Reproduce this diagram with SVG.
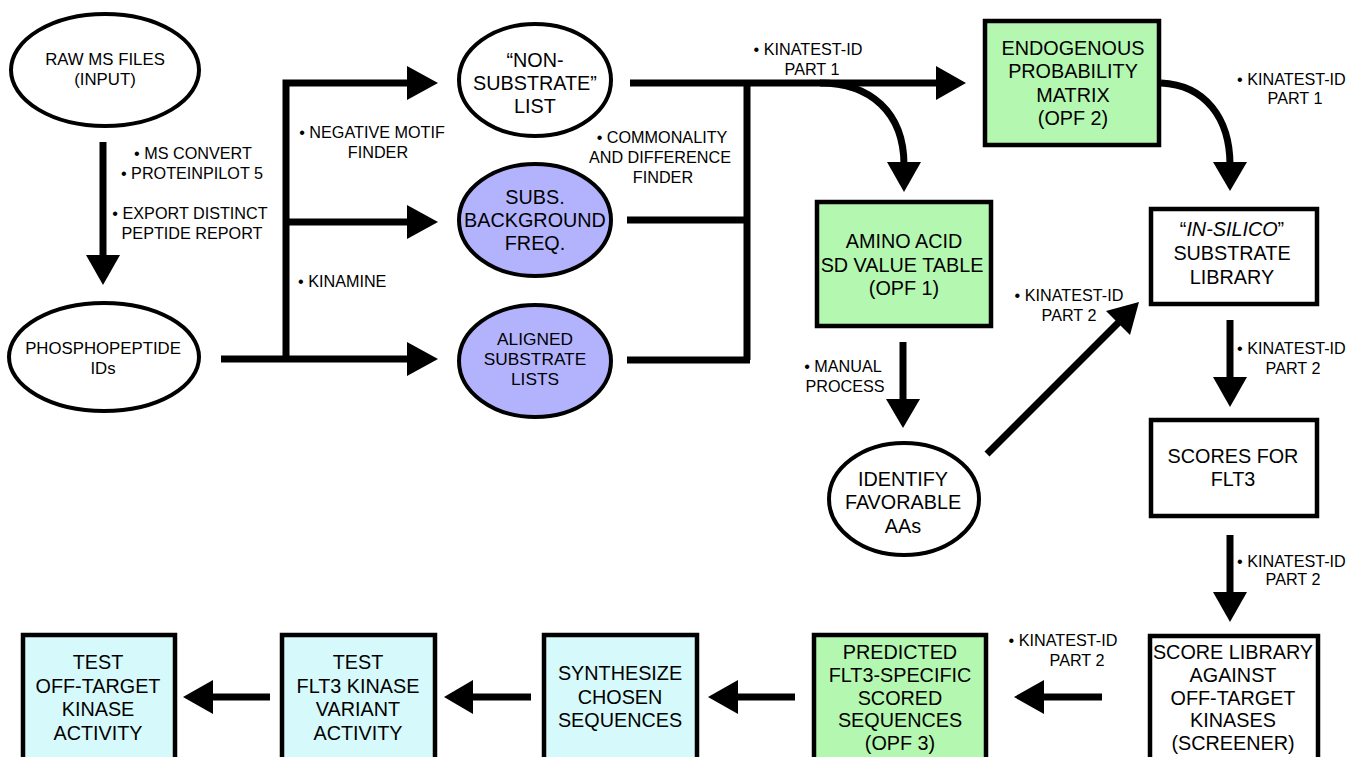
<svg xmlns="http://www.w3.org/2000/svg" width="1351" height="757" viewBox="0 0 1351 757">
<style>
text{font-family:"Liberation Sans",Arial,sans-serif;fill:#000;text-anchor:middle}
.n{font-size:19.8px}
.s{font-size:16.8px}
.l{font-size:16.2px}
.ell{stroke:#000;stroke-width:4;fill:#fff}
.box{stroke:#000;stroke-width:4.5;fill:#fff}
.g{fill:#b4f7b0}
.p{fill:#b3b3fd}
.c{fill:#d6f9fb}
.ln{stroke:#000;stroke-width:7;fill:none}
.ah{fill:#000;stroke:none}
</style>
<rect width="1351" height="757" fill="#fff"/>
<g id="connectors">
<line class="ln" x1="103" y1="142" x2="103" y2="258"/>
<polygon class="ah" points="86,255 120,255 103,285"/>
<line class="ln" x1="221" y1="359" x2="410" y2="359"/>
<polyline class="ln" points="410,83 286,83 286,359"/>
<line class="ln" x1="286" y1="222" x2="410" y2="222"/>
<polygon class="ah" points="407,66 407,100 438,83"/>
<polygon class="ah" points="407,205 407,239 438,222"/>
<polygon class="ah" points="407,342 407,376 438,359"/>
<line class="ln" x1="630" y1="83" x2="940" y2="83"/>
<polygon class="ah" points="936,66 936,100 966,83"/>
<line class="ln" x1="747" y1="80" x2="747" y2="360"/>
<line class="ln" x1="627" y1="220" x2="750" y2="220"/>
<line class="ln" x1="627" y1="360" x2="750" y2="360"/>
<path class="ln" d="M820,83 C870,83 904,112 904,165"/>
<polygon class="ah" points="887,162 921,162 904,192"/>
<path class="ln" d="M1161,83 C1205,85 1230,118 1230,165"/>
<polygon class="ah" points="1213,162 1247,162 1230,191"/>
<line class="ln" x1="987" y1="454" x2="1120" y2="321"/>
<polygon class="ah" points="1106,311 1130,335 1139,302"/>
<line class="ln" x1="903" y1="342" x2="903" y2="402"/>
<polygon class="ah" points="886,399 920,399 903,428"/>
<line class="ln" x1="1230" y1="320" x2="1230" y2="380"/>
<polygon class="ah" points="1213,377 1247,377 1230,407"/>
<line class="ln" x1="1230" y1="535" x2="1230" y2="595"/>
<polygon class="ah" points="1213,592 1247,592 1230,622"/>
<line class="ln" x1="1102" y1="697" x2="1041" y2="697"/>
<polygon class="ah" points="1044,680 1044,714 1014,697"/>
<line class="ln" x1="795" y1="697" x2="735" y2="697"/>
<polygon class="ah" points="738,680 738,714 708,697"/>
<line class="ln" x1="531" y1="697" x2="470" y2="697"/>
<polygon class="ah" points="473,680 473,714 444,697"/>
<line class="ln" x1="270" y1="697" x2="210" y2="697"/>
<polygon class="ah" points="213,680 213,714 183,697"/>
</g>
<g id="labels">
<text class="l" x="193" y="159">• MS CONVERT</text>
<text class="l" x="192" y="179">• PROTEINPILOT 5</text>
<text class="l" x="190" y="219">• EXPORT DISTINCT</text>
<text class="l" x="192" y="239">PEPTIDE REPORT</text>
<text class="l" x="372" y="138">• NEGATIVE MOTIF</text>
<text class="l" x="378" y="158">FINDER</text>
<text class="l" x="298" y="287" style="text-anchor:start">• KINAMINE</text>
<text class="l" x="662" y="143">• COMMONALITY</text>
<text class="l" x="660" y="163">AND DIFFERENCE</text>
<text class="l" x="663" y="183">FINDER</text>
<text class="l" x="808" y="55">• KINATEST-ID</text>
<text class="l" x="812" y="75">PART 1</text>
<text class="l" x="1237" y="85" style="text-anchor:start">• KINATEST-ID</text>
<text class="l" x="1295" y="104">PART 1</text>
<text class="l" x="1069" y="301">• KINATEST-ID</text>
<text class="l" x="1069" y="321">PART 2</text>
<text class="l" x="843" y="372">• MANUAL</text>
<text class="l" x="845" y="392">PROCESS</text>
<text class="l" x="1237" y="354" style="text-anchor:start">• KINATEST-ID</text>
<text class="l" x="1293" y="374">PART 2</text>
<text class="l" x="1237" y="567" style="text-anchor:start">• KINATEST-ID</text>
<text class="l" x="1293" y="585">PART 2</text>
<text class="l" x="1063" y="646">• KINATEST-ID</text>
<text class="l" x="1077" y="666">PART 2</text>
</g>
<g id="raw">
<ellipse class="ell" cx="105" cy="70" rx="94" ry="56"/>
<text class="s" x="105" y="65">RAW MS FILES</text>
<text class="s" x="105" y="85">(INPUT)</text>
</g>
<g id="phospho">
<ellipse class="ell" cx="104" cy="357" rx="95" ry="54"/>
<text class="s" x="103" y="354">PHOSPHOPEPTIDE</text>
<text class="s" x="103" y="374">IDs</text>
</g>
<g id="nonsub">
<ellipse class="ell" cx="535" cy="80" rx="76" ry="56"/>
<text class="n" x="535" y="67">“NON-</text>
<text class="n" x="535" y="90">SUBSTRATE”</text>
<text class="n" x="535" y="113">LIST</text>
</g>
<g id="subs">
<ellipse class="ell p" cx="535" cy="220" rx="76" ry="56"/>
<text class="n" x="535" y="204">SUBS.</text>
<text class="n" x="535" y="227">BACKGROUND</text>
<text class="n" x="535" y="250">FREQ.</text>
</g>
<g id="aligned">
<ellipse class="ell p" cx="535" cy="361" rx="76" ry="56"/>
<text class="s" x="535" y="345" style="font-size:17.3px">ALIGNED</text>
<text class="s" x="535" y="365" style="font-size:17.3px">SUBSTRATE</text>
<text class="s" x="535" y="385" style="font-size:17.3px">LISTS</text>
</g>
<g id="endo">
<rect class="box g" x="985" y="21" width="174" height="124"/>
<text class="n" x="1073" y="55">ENDOGENOUS</text>
<text class="n" x="1073" y="78">PROBABILITY</text>
<text class="n" x="1073" y="102">MATRIX</text>
<text class="n" x="1073" y="125">(OPF 2)</text>
</g>
<g id="amino">
<rect class="box g" x="817" y="202" width="174" height="124"/>
<text class="n" x="904" y="248">AMINO ACID</text>
<text class="n" x="902" y="272">SD VALUE TABLE</text>
<text class="n" x="904" y="295">(OPF 1)</text>
</g>
<g id="insilico">
<rect class="box" x="1151" y="209" width="166" height="95"/>
<text class="n" x="1232" y="236">“<tspan font-style="italic">IN-SILICO</tspan>”</text>
<text class="n" x="1232" y="260">SUBSTRATE</text>
<text class="n" x="1232" y="284">LIBRARY</text>
</g>
<g id="identify">
<ellipse class="ell" cx="904" cy="499" rx="75" ry="56"/>
<text class="n" x="903" y="486">IDENTIFY</text>
<text class="n" x="903" y="509">FAVORABLE</text>
<text class="n" x="903" y="533">AAs</text>
</g>
<g id="scores">
<rect class="box" x="1151" y="420" width="166" height="96"/>
<text class="n" x="1233" y="463">SCORES FOR</text>
<text class="n" x="1233" y="486">FLT3</text>
</g>
<g id="scorelib">
<rect class="box" x="1150" y="636" width="168" height="140"/>
<text class="n" x="1233" y="659">SCORE LIBRARY</text>
<text class="n" x="1233" y="682">AGAINST</text>
<text class="n" x="1233" y="705">OFF-TARGET</text>
<text class="n" x="1233" y="727">KINASES</text>
<text class="n" x="1233" y="750">(SCREENER)</text>
</g>
<g id="predicted">
<rect class="box g" x="814" y="635" width="172" height="140"/>
<text class="n" x="900" y="659">PREDICTED</text>
<text class="n" x="900" y="682">FLT3-SPECIFIC</text>
<text class="n" x="900" y="705">SCORED</text>
<text class="n" x="900" y="727">SEQUENCES</text>
<text class="n" x="900" y="750">(OPF 3)</text>
</g>
<g id="synth">
<rect class="box c" x="544" y="635" width="153" height="140"/>
<text class="n" x="620" y="680">SYNTHESIZE</text>
<text class="n" x="620" y="704">CHOSEN</text>
<text class="n" x="620" y="727">SEQUENCES</text>
</g>
<g id="testflt3">
<rect class="box c" x="282" y="635" width="153" height="140"/>
<text class="n" x="358" y="669">TEST</text>
<text class="n" x="358" y="693">FLT3 KINASE</text>
<text class="n" x="358" y="716">VARIANT</text>
<text class="n" x="358" y="740">ACTIVITY</text>
</g>
<g id="testoff">
<rect class="box c" x="23" y="635" width="152" height="140"/>
<text class="n" x="98" y="669">TEST</text>
<text class="n" x="98" y="693">OFF-TARGET</text>
<text class="n" x="98" y="716">KINASE</text>
<text class="n" x="98" y="740">ACTIVITY</text>
</g>
</svg>
